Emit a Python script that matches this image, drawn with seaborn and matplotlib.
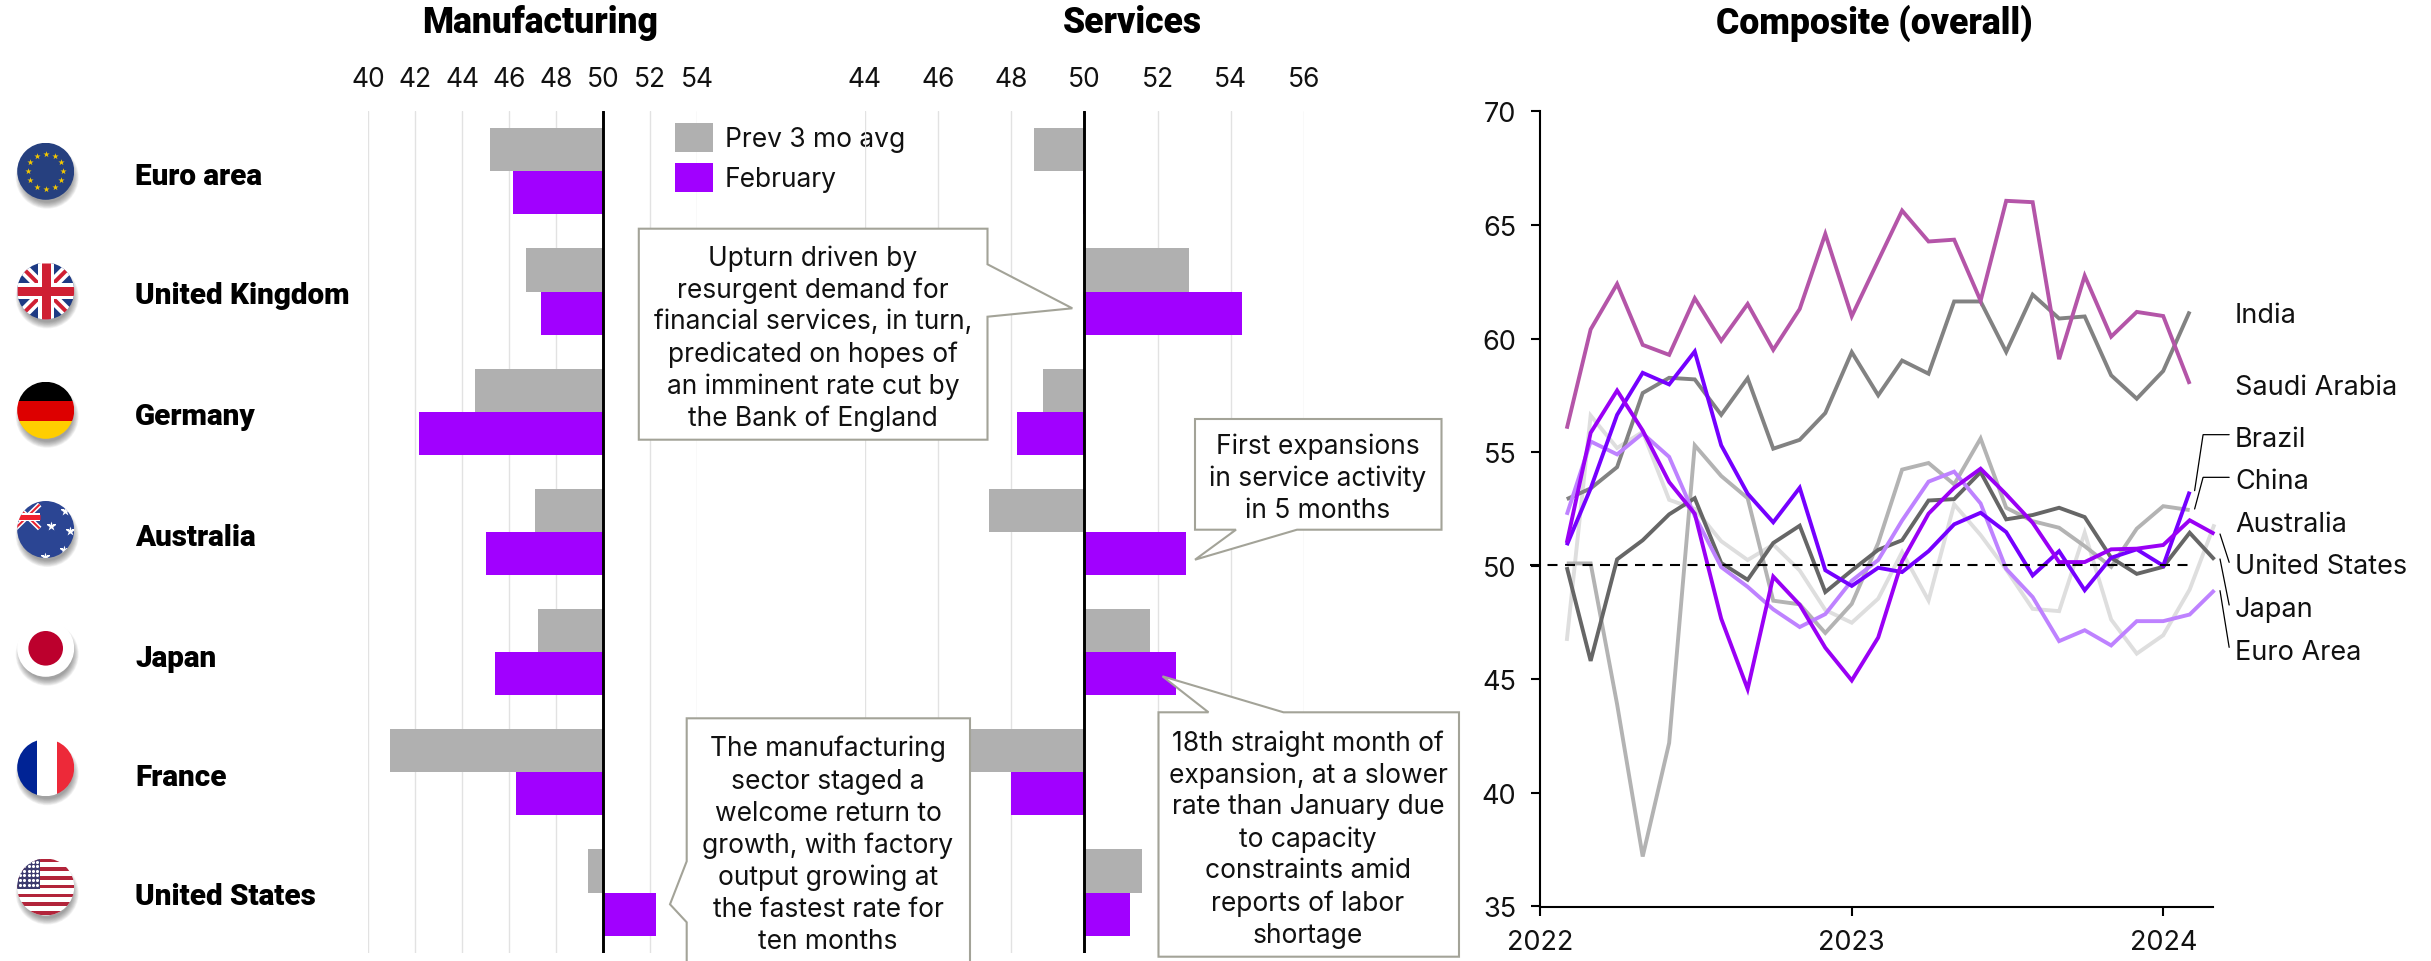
import numpy as np
import pandas as pd
import matplotlib
matplotlib.use("Agg")
import matplotlib.pyplot as plt
import matplotlib.dates as mdates
from matplotlib.patches import Circle, Rectangle, Polygon
import seaborn as sns

W, H = 2431, 962

# ---------- data ----------
countries = ["Euro area", "United Kingdom", "Germany", "Australia", "Japan", "France", "United States"]
mfg_prev = [45.18, 46.70, 44.55, 47.10, 47.22, 40.90, 49.35]
mfg_feb = [46.14, 47.33, 42.15, 45.00, 45.40, 46.30, 52.25]
svc_prev = [48.63, 52.85, 48.88, 47.40, 51.80, 46.80, 51.57]
svc_feb = [49.97, 54.32, 48.17, 52.79, 52.50, 48.00, 51.26]
series_names = ["Prev 3 mo avg", "February"]
mfg_ticks = [40, 42, 44, 46, 48, 50, 52, 54]
svc_ticks = [44, 46, 48, 50, 52, 54, 56]

india = [56.03, 60.4, 62.4, 59.72, 59.28, 61.77, 59.9, 61.52, 59.5, 61.3, 64.6, 60.98, 63.43, 65.63, 64.27, 64.35, 61.66, 66.06, 66.0, 59.09, 62.76, 60.08, 61.17, 60.99, 58.0]
saudi = [52.93, 53.4, 54.34, 57.6, 58.27, 58.2, 56.64, 58.25, 55.15, 55.54, 56.72, 59.4, 57.5, 59.03, 58.45, 61.63, 61.63, 59.41, 61.93, 60.88, 60.97, 58.38, 57.35, 58.57, 61.19]
brazil = [50.9, 53.4, 56.64, 58.49, 57.98, 59.43, 55.3, 53.17, 51.91, 53.43, 49.8, 49.11, 49.91, 49.72, 50.64, 51.82, 52.33, 51.48, 49.57, 50.64, 48.92, 50.35, 50.72, 50.0, 53.26]
china = [50.1, 50.1, 43.9, 37.2, 42.2, 55.3, 53.95, 52.97, 48.46, 48.3, 47.04, 48.32, 51.0, 54.23, 54.52, 53.58, 55.6, 52.55, 51.96, 51.67, 50.86, 49.95, 51.63, 52.62, 52.45]
australia = [46.69, 56.61, 55.18, 55.89, 52.9, 52.5, 51.08, 50.25, 50.93, 49.79, 48.05, 47.49, 48.55, 50.6, 48.47, 52.7, 51.35, 49.83, 48.1, 48.0, 51.45, 47.63, 46.13, 46.94, 48.95, 51.82]
us = [51.0, 55.85, 57.71, 55.95, 53.68, 52.29, 47.67, 44.57, 49.52, 48.28, 46.39, 44.95, 46.84, 50.2, 52.29, 53.43, 54.27, 53.14, 51.89, 50.16, 50.16, 50.72, 50.75, 50.91, 52.0, 51.4]
japan = [49.94, 45.81, 50.28, 51.12, 52.26, 52.97, 50.12, 49.38, 51.0, 51.76, 48.84, 49.79, 50.7, 51.12, 52.87, 52.93, 54.12, 52.04, 52.23, 52.55, 52.14, 50.35, 49.64, 49.95, 51.45, 50.27]
euro = [52.24, 55.47, 54.9, 55.82, 54.79, 52.2, 49.94, 49.07, 48.08, 47.3, 47.87, 49.34, 50.25, 51.99, 53.7, 54.14, 52.74, 49.86, 48.62, 46.68, 47.16, 46.49, 47.56, 47.56, 47.85, 48.92]
start_month = "2022-02-01"
composite = {"Australia": australia, "China": china, "Saudi Arabia": saudi, "India": india,
             "Japan": japan, "Euro Area": euro, "Brazil": brazil, "United States": us}

# ---------- styles ----------
GREY, PURPLE, BOX = "#b0b0b0", "#a100ff", "#a3a398"
line_colors = {"Australia": "#dedede", "China": "#b3b3b3", "Saudi Arabia": "#828282", "India": "#b455a8",
               "Japan": "#666666", "Euro Area": "#be82ff", "Brazil": "#7500ff", "United States": "#9a00f5"}

sns.set_theme(style="white")
BODY = ["Inter", "DejaVu Sans"]
HEAVY = ["Roboto", "DejaVu Sans"]
plt.rcParams["font.family"] = BODY
FS = 19
FS_R = 19.5


def px_axes(fig, left, right, top, bottom, **kw):
    return fig.add_axes([left / W, 1 - bottom / H, (right - left) / W, (bottom - top) / H], **kw)


fig = plt.figure(figsize=(W / 100, H / 100), dpi=100, facecolor="white")


def bars(ax, prev, feb, ticks, xlim):
    df = pd.DataFrame({"country": countries * 2,
                       "series": [series_names[0]] * 7 + [series_names[1]] * 7,
                       "value": list(prev) + list(feb)})
    df["delta"] = df["value"] - 50
    sns.barplot(data=df, y="country", x="delta", hue="series", left=50, ax=ax, order=countries,
                hue_order=series_names, palette=[GREY, PURPLE], width=0.716, gap=0,
                saturation=1, legend=False, zorder=2, linewidth=0)
    ax.set_xlim(*xlim)
    ax.set_ylim(6.5, -0.5)
    ax.set_xticks(ticks)
    ax.set_yticks([])
    ax.set_xlabel("")
    ax.set_ylabel("")
    ax.xaxis.tick_top()
    ax.tick_params(axis="x", length=0, pad=14, labelsize=FS, labelcolor="#111111")
    for s in ax.spines.values():
        s.set_visible(False)
    ax.grid(True, axis="x", color="#e2e2e2", lw=1.0, zorder=0)
    ax.grid(False, axis="y")
    ax.set_axisbelow(True)
    ax.axvline(50, color="black", lw=2.1, zorder=5)
    ax.patch.set_alpha(0)


ax_m = px_axes(fig, 368.4, 697.4, 112.2, 953.6)
bars(ax_m, mfg_prev, mfg_feb, mfg_ticks, (40, 54))
ax_s = px_axes(fig, 864.7, 1304.0, 112.2, 953.6)
bars(ax_s, svc_prev, svc_feb, svc_ticks, (44, 56))

# legend
handles = [Rectangle((0, 0), 1, 1, fc=c, lw=0) for c in (GREY, PURPLE)]
ax_m.legend(handles, series_names, loc="upper left", bbox_to_anchor=(675 / W, 1 - 124 / H),
            bbox_transform=fig.transFigure, frameon=False, fontsize=FS, handlelength=1.43,
            handleheight=1.315, labelspacing=0.4, handletextpad=0.45, borderpad=0, borderaxespad=0,
            labelcolor="#111111")

# composite line chart
ax_c = px_axes(fig, 1540.3, 2212.7, 112.3, 907.5)
months = pd.date_range(start_month, periods=26, freq="MS")
long = pd.concat([pd.DataFrame({"month": months[:len(v)], "value": v, "name": k}) for k, v in composite.items()])
sns.lineplot(data=long, x="month", y="value", hue="name", hue_order=list(composite), palette=line_colors,
             ax=ax_c, legend=False, lw=2.8, estimator=None, sort=False, clip_on=False,
             solid_joinstyle="miter", solid_capstyle="butt")
ax_c.set_xlim(pd.Timestamp("2022-01-01"), pd.Timestamp("2022-01-01") + pd.Timedelta(days=788))
ax_c.set_ylim(35, 70)
ax_c.set_yticks([35, 40, 45, 50, 55, 60, 65, 70])
ax_c.set_xticks(pd.to_datetime(["2022-01-01", "2023-01-01", "2024-01-01"]))
ax_c.xaxis.set_major_formatter(mdates.DateFormatter("%Y"))
ax_c.set_xlabel("")
ax_c.set_ylabel("")
ax_c.tick_params(axis="both", length=6.3, width=1.5, color="black", labelsize=FS_R, labelcolor="#111111",
                 left=True, bottom=True)
ax_c.tick_params(axis="y", pad=11)
ax_c.tick_params(axis="x", pad=10)
for s in ("top", "right"):
    ax_c.spines[s].set_visible(False)
for s in ("left", "bottom"):
    ax_c.spines[s].set_color("black")
    ax_c.spines[s].set_linewidth(1.5)
ax_c.plot(pd.to_datetime(["2021-12-20", "2024-02-01"]), [50.05, 50.05], color="black", lw=1.5,
          ls=(0, (4.8, 3.6)), clip_on=False, zorder=6)

# overlay in pixel coordinates
ov = fig.add_axes([0, 0, 1, 1], zorder=20)
ov.set_xlim(0, W)
ov.set_ylim(H, 0)
ov.axis("off")
ov.patch.set_alpha(0)

for txt, x in [("Manufacturing", 540), ("Services", 1132), ("Composite (overall)", 1874)]:
    ov.text(x, 23, txt, ha="center", va="center", fontsize=25.6, fontweight="black", family=HEAVY, color="black")

label_y = [177, 296, 417, 538, 658.7, 778, 897]
for c, y in zip(countries, label_y):
    ov.text(135, y, c, ha="left", va="center", fontsize=21.3, fontweight="black", family=HEAVY, color="black")

# right labels and leaders
for name, y in [("India", 316), ("Saudi Arabia", 388), ("Brazil", 439.7), ("China", 482), ("Australia", 524.7),
                ("United States", 567), ("Japan", 610), ("Euro Area", 653)]:
    ov.text(2235, y, name, ha="left", va="center", fontsize=FS_R, color="#111111")
for pts in [[(972, 557), (895, 557), (870, 725)], [(972, 685), (895, 685), (870, 780)],
            [(972, 940), (945, 855)], [(972, 1068), (945, 930)], [(972, 1195), (945, 1025)]]:
    xs = [1900 + p[0] / 2.953 for p in pts]
    ys = [250 + p[1] / 3 for p in pts]
    ov.plot(xs, ys, color="black", lw=0.9, solid_joinstyle="miter")


def callout(pts, cx, lines, ys):
    ov.add_patch(Polygon(pts, closed=True, fc="white", ec=BOX, lw=1.5, clip_on=True, zorder=10, joinstyle="miter"))
    for t, y in zip(lines, ys):
        ov.text(cx, y + 2.5, t, ha="center", va="center", fontsize=FS, color="#111111", zorder=11)


callout([(638.8, 229.7), (987.5, 229.7), (987.5, 265.3), (1072.3, 309.3), (987.5, 317.7), (987.5, 440.7), (638.8, 440.7)],
        813, ["Upturn driven by", "resurgent demand for", "financial services, in turn,", "predicated on hopes of",
              "an imminent rate cut by", "the Bank of England"], [256, 288.3, 320, 352.7, 384.3, 416])
callout([(1195, 420), (1441.5, 420), (1441.5, 530.7), (1297, 530.7), (1195, 560.7), (1236, 530.7), (1195, 530.7)],
        1318, ["First expansions", "in service activity", "in 5 months"], [444, 476, 508])
callout([(1158.5, 713.3), (1208.5, 713.3), (1162.5, 677.3), (1283.5, 713.3), (1459, 713.3), (1459, 957.7), (1158.5, 957.7)],
        1308, ["18th straight month of", "expansion, at a slower", "rate than January due", "to capacity",
               "constraints amid", "reports of labor", "shortage"], [741, 773.3, 805, 837.3, 869, 901, 933.3])
callout([(686.7, 719.3), (970, 719.3), (970, 975), (686.7, 975), (686.7, 923.3), (670, 905.3), (686.7, 862.3)],
        828, ["The manufacturing", "sector staged a", "welcome return to", "growth, with factory", "output growing at",
              "the fastest rate for", "ten months"], [746.7, 779.3, 811.7, 843.3, 875.7, 907.3, 939.3])

# flags
R = 28.5
CX = 45.7
flag_y = [172.3, 292, 411.3, 530.5, 649.3, 768.7, 888]


def flag(name, cy):
    cx = CX
    for i in range(10):
        ov.add_patch(Circle((cx + 1.5, cy + 6), R + 3 - i * 0.7, fc="#303030", ec="none", alpha=0.055, zorder=1))
    clip = Circle((cx, cy), R, transform=ov.transData)

    def rect(x0, y0, w, h, c):
        p = Rectangle((x0, y0), w, h, fc=c, ec="none", zorder=2)
        ov.add_patch(p)
        p.set_clip_path(clip)

    def line(xs, ys, c, px):
        l, = ov.plot(xs, ys, color=c, lw=px * 0.72, solid_capstyle="butt", zorder=3)
        l.set_clip_path(clip)

    def stars(xs, ys, c, s, marker="*"):
        sc = ov.scatter(xs, ys, s=s, c=c, marker=marker, linewidths=0, zorder=4)
        sc.set_clip_path(clip)

    L, T = cx - R, cy - R
    D = 2 * R
    if name == "Euro area":
        rect(L, T, D, D, "#26407f")
        a = np.arange(12) * np.pi / 6
        stars(cx + 0.62 * R * np.cos(a), cy + 0.62 * R * np.sin(a), "#f5c800", 22)
    elif name == "United Kingdom":
        rect(L, T, D, D, "#1d3a84")
        line([L, L + D], [T, T + D], "white", 11)
        line([L, L + D], [T + D, T], "white", 11)
        line([L, L + D], [T, T + D], "#cf1f33", 4)
        line([L, L + D], [T + D, T], "#cf1f33", 4)
        line([cx, cx], [T, T + D], "white", 16)
        line([L, L + D], [cy, cy], "white", 16)
        line([cx, cx], [T, T + D], "#cf1f33", 9)
        line([L, L + D], [cy, cy], "#cf1f33", 9)
    elif name == "Germany":
        rect(L, T, D, 19, "black")
        rect(L, T + 19, D, 20, "#dd0000")
        rect(L, T + 39, D, D - 39, "#ffce00")
    elif name == "Australia":
        rect(L, T, D, D, "#2b4593")
        x0, x1, y0, y1 = cx - R - 2, cx - 6, cy - 25, cy - 1
        line([x0, x1], [y0, y1], "white", 5)
        line([x0, x1], [y1, y0], "white", 5)
        line([x0, x1], [y0, y1], "#e8202f", 2)
        line([x0, x1], [y1, y0], "#e8202f", 2)
        line([x0, x1], [(y0 + y1) / 2] * 2, "white", 8)
        line([x0, x1], [(y0 + y1) / 2] * 2, "#f0202f", 5)
        stars([cx + 5, cx + 19, cx + 24, cx + 18, cx - 1], [cy - 4, cy - 19, cy + 1, cy + 20, cy + 27], "white", 50)
    elif name == "Japan":
        rect(L, T, D, D, "white")
        ov.add_patch(Circle((cx, cy), 17.3, fc="#bc002d", ec="none", zorder=3))
    elif name == "France":
        rect(L, T, 20, D, "#002395")
        rect(L + 20, T, 20, D, "white")
        rect(L + 40, T, D - 40, D, "#ed2939")
    elif name == "United States":
        rect(L, T, D, D, "white")
        h = D / 13
        for i in range(0, 13, 2):
            rect(L, T + i * h, D, h * 0.82, "#b2243a")
        rect(L, T, 23, 30, "#3c3b6e")
        gx, gy = np.meshgrid(np.arange(L + 3, L + 23, 4.2), np.arange(T + 3, T + 30, 4.6))
        stars(gx.ravel(), gy.ravel(), "white", 5, marker="o")


for c, y in zip(countries, flag_y):
    flag(c, y)

fig.savefig("out.png", dpi=100, facecolor="white")
